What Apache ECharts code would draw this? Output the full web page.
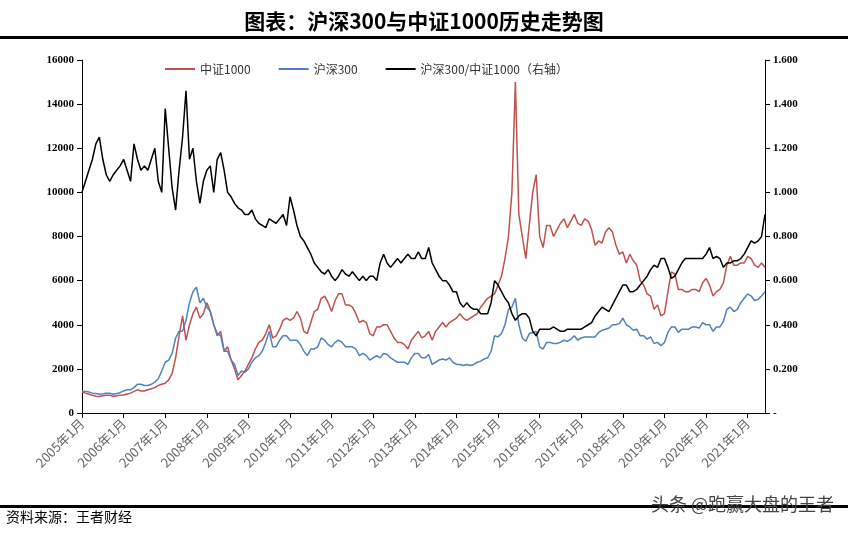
<!DOCTYPE html><html><head><meta charset="utf-8"><script src="https://cdn.jsdelivr.net/npm/echarts@6/dist/echarts.min.js"></script>
<style>html,body{margin:0;padding:0;background:#fff}#c{width:848px;height:533px}</style></head><body><div id="c"></div><script>
const startYear = 2005;
const csi1000 = [
950,900,850,800,760,750,780,800,800,760,780,800,
820,860,900,980,1050,1000,1000,1050,1100,1150,1250,1300,
1350,1500,1800,2500,3500,4400,3300,4000,4500,4800,4300,4500,
5000,4600,4000,3500,3700,2800,3000,2400,2000,1500,1700,1900,
2200,2500,2900,3200,3300,3600,4000,3400,3500,3800,4200,4300,
4200,4300,4600,4300,3700,3600,4100,4600,4700,5200,5300,5000,
4600,5100,5400,5400,4900,4900,4800,4500,4100,4200,4100,3600,
3500,3900,3900,4000,4000,3700,3400,3200,3200,3100,2900,3300,
3500,3700,3400,3500,3700,3300,3700,3900,4100,3900,4100,4200,
4300,4500,4300,4200,4300,4400,4500,4800,5000,5200,5300,5400,
5800,6200,7000,8000,10000,15000,9000,8000,7000,8500,10000,10800,
8000,7500,8500,8500,8000,8300,8600,8800,8400,8700,9000,8600,
8500,8800,8700,8300,7600,7800,7700,8200,8400,8200,7600,7200,
7300,6800,7200,6900,6700,6000,5800,5400,5300,4700,4900,4400,
4500,5500,6400,6300,5600,5600,5500,5500,5600,5600,5500,5900,
6100,5800,5300,5500,5600,5900,6700,7100,6700,6700,6800,6800,
7100,7000,6700,6600,6800,6600];
const csi300 = [
1000,980,950,900,880,850,870,900,900,850,880,920,
1000,1050,1050,1150,1300,1300,1250,1250,1300,1400,1550,1900,
2300,2400,2700,3400,3700,3700,4200,5000,5500,5700,5000,5200,
4800,4600,4000,3600,3500,2800,2800,2400,2200,1700,1900,1850,
2000,2300,2500,2600,2800,3200,3700,3000,3000,3300,3500,3500,
3300,3300,3300,3100,2800,2600,2900,2900,3000,3400,3300,3100,
3000,3200,3300,3200,3000,3000,3000,2900,2600,2700,2600,2400,
2500,2600,2500,2700,2650,2500,2400,2300,2300,2300,2200,2500,
2700,2700,2500,2500,2650,2200,2300,2400,2450,2400,2500,2300,
2200,2200,2150,2200,2150,2200,2300,2350,2450,2500,2800,3500,
3450,3600,4000,4700,4800,5200,4000,3400,3250,3600,3650,3700,
3000,2900,3200,3200,3150,3150,3200,3300,3250,3350,3500,3300,
3400,3450,3450,3450,3450,3650,3750,3800,3850,4000,4000,4050,
4300,4000,3900,3750,3800,3500,3500,3350,3450,3150,3200,3050,
3200,3650,3900,3900,3650,3800,3800,3800,3900,3900,3850,4100,
4000,4000,3700,3900,3900,4150,4700,4800,4600,4700,5000,5200,
5400,5300,5100,5150,5300,5500];
const ratio = [
1.00,1.05,1.10,1.15,1.22,1.25,1.15,1.08,1.05,1.08,1.10,1.12,
1.15,1.10,1.05,1.22,1.15,1.10,1.12,1.10,1.15,1.20,1.05,1.00,
1.38,1.20,1.02,0.92,1.10,1.25,1.46,1.15,1.20,1.05,0.95,1.05,
1.10,1.12,1.00,1.15,1.18,1.10,1.00,0.98,0.95,0.93,0.92,0.90,
0.90,0.92,0.88,0.86,0.85,0.84,0.88,0.87,0.86,0.88,0.90,0.85,
0.98,0.92,0.85,0.80,0.78,0.75,0.72,0.68,0.66,0.64,0.63,0.65,
0.62,0.60,0.62,0.65,0.63,0.62,0.64,0.62,0.60,0.62,0.60,0.62,
0.62,0.60,0.68,0.72,0.68,0.66,0.68,0.70,0.68,0.70,0.72,0.70,
0.70,0.73,0.70,0.70,0.75,0.68,0.65,0.62,0.60,0.60,0.58,0.55,
0.55,0.50,0.48,0.50,0.48,0.47,0.47,0.45,0.45,0.45,0.50,0.60,
0.58,0.55,0.52,0.50,0.45,0.42,0.44,0.45,0.45,0.43,0.37,0.35,
0.38,0.38,0.38,0.38,0.39,0.38,0.37,0.37,0.38,0.38,0.38,0.38,
0.38,0.39,0.40,0.41,0.44,0.46,0.48,0.47,0.46,0.49,0.52,0.55,
0.58,0.58,0.55,0.55,0.56,0.58,0.60,0.62,0.65,0.67,0.66,0.70,
0.70,0.66,0.61,0.62,0.65,0.68,0.70,0.70,0.70,0.70,0.70,0.70,
0.72,0.75,0.70,0.71,0.70,0.66,0.68,0.68,0.69,0.69,0.70,0.72,
0.75,0.78,0.77,0.78,0.80,0.90];
const months = csi1000.map((_, i) => (startYear + Math.floor(i / 12)) + '年' + (i % 12 + 1) + '月');

const chart = echarts.init(document.getElementById('c'));
const isJan = (i) => i % 12 === 0;
chart.setOption({
  backgroundColor: '#fff',
  animation: false,
  title: { text: '图表：沪深300与中证1000历史走势图', left: 'center', top: 6,
    textStyle: { fontSize: 21, fontWeight: 'bold', color: '#000', fontFamily: 'Noto Sans CJK SC' } },
  legend: { top: 58, left: 160, itemWidth: 30, itemHeight: 2, itemGap: 28, icon: 'rect',
    textStyle: { fontSize: 12, color: '#333', fontFamily: 'Noto Sans CJK SC' },
    data: ['中证1000', '沪深300', '沪深300/中证1000（右轴）'] },
  grid: { left: 82, right: 83, top: 60, bottom: 120 },
  xAxis: { type: 'category', data: months, boundaryGap: false,
    axisLine: { lineStyle: { color: '#000' } },
    axisTick: { interval: isJan, lineStyle: { color: '#000' } },
    axisLabel: { interval: isJan, rotate: 45, color: '#666', fontSize: 13, fontFamily: 'Noto Sans CJK SC' } },
  yAxis: [
    { type: 'value', min: 0, max: 16000, interval: 2000, splitLine: { show: false },
      axisLine: { show: true, lineStyle: { color: '#000' } }, axisTick: { show: true },
      axisLabel: { color: '#000', fontWeight: 'bold', fontSize: 11, fontFamily: 'Liberation Serif', formatter: v => String(v) } },
    { type: 'value', min: 0, max: 1.6, interval: 0.2, splitLine: { show: false },
      axisLine: { show: true, lineStyle: { color: '#000' } }, axisTick: { show: true },
      axisLabel: { color: '#000', fontWeight: 'bold', fontSize: 11, fontFamily: 'Liberation Serif',
        formatter: v => v === 0 ? '-' : v.toFixed(3) } }
  ],
  series: [
    { name: '中证1000', type: 'line', data: csi1000, showSymbol: false, lineStyle: { width: 1.5, color: '#c0504d' }, itemStyle: { color: '#c0504d' } },
    { name: '沪深300', type: 'line', data: csi300, showSymbol: false, lineStyle: { width: 1.5, color: '#4f81bd' }, itemStyle: { color: '#4f81bd' } },
    { name: '沪深300/中证1000（右轴）', type: 'line', yAxisIndex: 1, data: ratio, showSymbol: false, lineStyle: { width: 1.5, color: '#000' }, itemStyle: { color: '#000' } }
  ],
  graphic: [
    { type: 'rect', shape: { x: 0, y: 36, width: 848, height: 3 }, style: { fill: '#000' } },
    { type: 'rect', shape: { x: 0, y: 505, width: 848, height: 3 }, style: { fill: '#000' } },
    { type: 'text', left: 6, top: 510, style: { text: '资料来源：王者财经', fontSize: 14, fill: '#000', fontFamily: 'Noto Sans CJK SC' } },
    { type: 'text', right: 14, top: 495, style: { text: '头条 @跑赢大盘的王者', fontSize: 18, fill: '#444', fontFamily: 'Noto Sans CJK SC' } }
  ]
});
</script></body></html>
